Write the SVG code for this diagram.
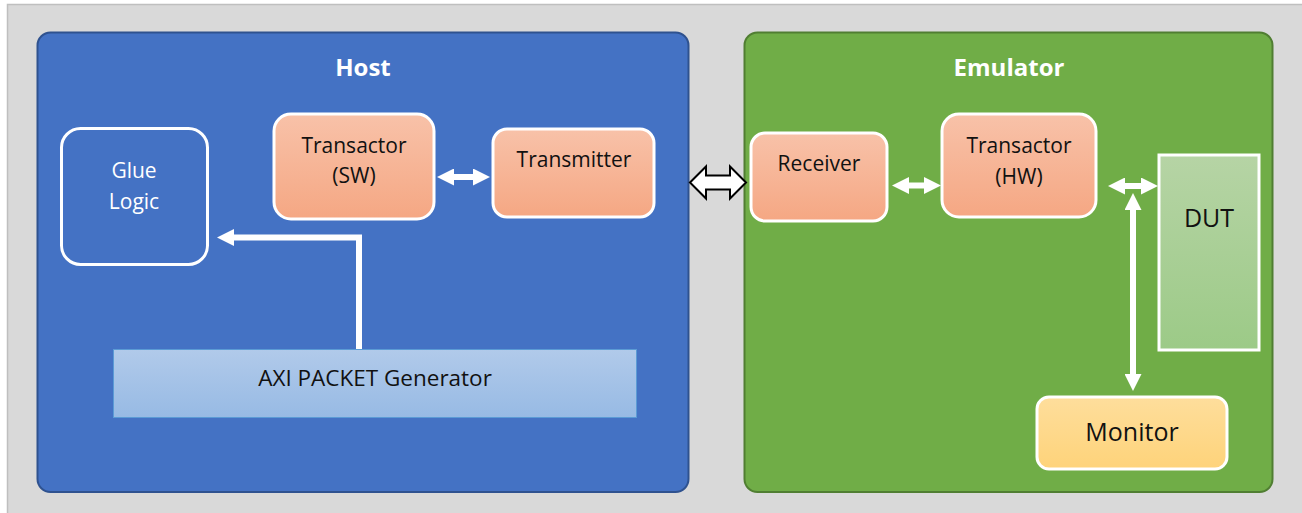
<svg xmlns="http://www.w3.org/2000/svg" width="1302" height="513" viewBox="0 0 1302 513">
  <defs>
    <linearGradient id="gOrange" x1="0" y1="0" x2="0" y2="1">
      <stop offset="0" stop-color="#F8C2A9"/>
      <stop offset="1" stop-color="#F5A783"/>
    </linearGradient>
    <linearGradient id="gGold" x1="0" y1="0" x2="0" y2="1">
      <stop offset="0" stop-color="#FEDE9C"/>
      <stop offset="1" stop-color="#FED37A"/>
    </linearGradient>
    <linearGradient id="gGreen" x1="0" y1="0" x2="0" y2="1">
      <stop offset="0" stop-color="#B6D4A5"/>
      <stop offset="1" stop-color="#9CCA87"/>
    </linearGradient>
    <linearGradient id="gBlue" x1="0" y1="0" x2="0" y2="1">
      <stop offset="0" stop-color="#B1CAEA"/>
      <stop offset="1" stop-color="#97BAE4"/>
    </linearGradient>
    <marker id="head" viewBox="0 0 17 17" refX="1" refY="8.5" markerWidth="17" markerHeight="17" markerUnits="userSpaceOnUse" orient="auto-start-reverse">
      <path d="M0,0 L17,8.5 L0,17 Z" fill="#FFFFFF"/>
    </marker>
  </defs>
  <style>
    text { font-family: "Open Sans", "Liberation Sans", sans-serif; text-anchor: middle; fill: #111111; }
    .title { font-weight: bold; font-size: 24px; fill: #FFFFFF; }
    .lbl { font-size: 21px; }
    .big { font-size: 25px; }
    .box { fill: url(#gOrange); stroke: #FFFFFF; stroke-width: 3; }
    .wire { fill: none; stroke: #FFFFFF; stroke-width: 6; }
  </style>

  <!-- backdrop -->
  <rect x="7.5" y="4.5" width="1300" height="515" fill="#D9D9D9" stroke="#BFBFBF" stroke-width="1.5"/>

  <!-- Host container -->
  <g id="host">
    <rect x="37.5" y="32.5" width="651" height="459.5" rx="13" fill="#4472C4" stroke="#2F528F" stroke-width="2"/>
    <text class="title" x="363" y="76">Host</text>
  </g>

  <!-- Emulator container -->
  <g id="emulator">
    <rect x="744.5" y="32.5" width="528" height="459.5" rx="13" fill="#70AD47" stroke="#507E32" stroke-width="2"/>
    <text class="title" x="1009" y="76">Emulator</text>
  </g>

  <g id="glue-logic">
    <rect x="61.5" y="128.5" width="146" height="136" rx="19" fill="none" stroke="#FFFFFF" stroke-width="3"/>
    <text class="lbl" x="134" y="178" style="fill:#FFFFFF">Glue</text>
    <text class="lbl" x="134" y="209" style="fill:#FFFFFF">Logic</text>
  </g>

  <g id="transactor-sw">
    <rect class="box" x="274" y="114" width="160" height="105" rx="17"/>
    <text class="lbl" x="354" y="153">Transactor</text>
    <text class="lbl" x="354" y="183">(SW)</text>
  </g>

  <g id="transmitter">
    <rect class="box" x="493" y="129" width="161" height="88" rx="14"/>
    <text class="lbl" x="574" y="167">Transmitter</text>
  </g>

  <g id="axi-generator">
    <rect x="113.5" y="349.5" width="523" height="68" fill="url(#gBlue)" stroke="#5B9BD5" stroke-width="1"/>
    <text style="font-size:22.5px" x="375" y="386">AXI PACKET Generator</text>
  </g>

  <g id="receiver">
    <rect class="box" x="751" y="133" width="136" height="88" rx="14"/>
    <text class="lbl" x="819" y="171">Receiver</text>
  </g>

  <g id="transactor-hw">
    <rect class="box" x="942" y="114" width="154" height="103" rx="17"/>
    <text class="lbl" x="1019" y="153">Transactor</text>
    <text class="lbl" x="1019" y="184">(HW)</text>
  </g>

  <g id="dut">
    <rect x="1159" y="155" width="100" height="195" fill="url(#gGreen)" stroke="#FFFFFF" stroke-width="3"/>
    <text class="big" x="1209" y="227">DUT</text>
  </g>

  <g id="monitor">
    <rect x="1037" y="397" width="190" height="72" rx="12" fill="url(#gGold)" stroke="#FFFFFF" stroke-width="3"/>
    <text class="big" x="1132" y="441">Monitor</text>
  </g>

  <!-- connectors -->
  <g id="connectors">
    <!-- generator feeds glue logic -->
    <path class="wire" d="M359,349 V237.5 H233" marker-end="url(#head)"/>
    <!-- transactor (SW) <-> transmitter -->
    <line class="wire" x1="453" y1="177" x2="474" y2="177" marker-start="url(#head)" marker-end="url(#head)"/>
    <!-- host <-> emulator link -->
    <path d="M690,182.5 L706,166.5 L706,175.5 L730,175.5 L730,166.5 L746,182.5 L730,198.5 L730,189.5 L706,189.5 L706,198.5 Z" fill="#FFFFFF" stroke="#000000" stroke-width="2" stroke-linejoin="miter"/>
    <!-- receiver <-> transactor (HW) -->
    <line class="wire" x1="908" y1="185.5" x2="925" y2="185.5" marker-start="url(#head)" marker-end="url(#head)"/>
    <!-- transactor (HW) <-> DUT -->
    <line class="wire" x1="1124" y1="186" x2="1142" y2="186" marker-start="url(#head)" marker-end="url(#head)"/>
    <!-- DUT bus <-> monitor -->
    <line class="wire" x1="1133" y1="209" x2="1133" y2="375" marker-start="url(#head)" marker-end="url(#head)"/>
  </g>
</svg>
